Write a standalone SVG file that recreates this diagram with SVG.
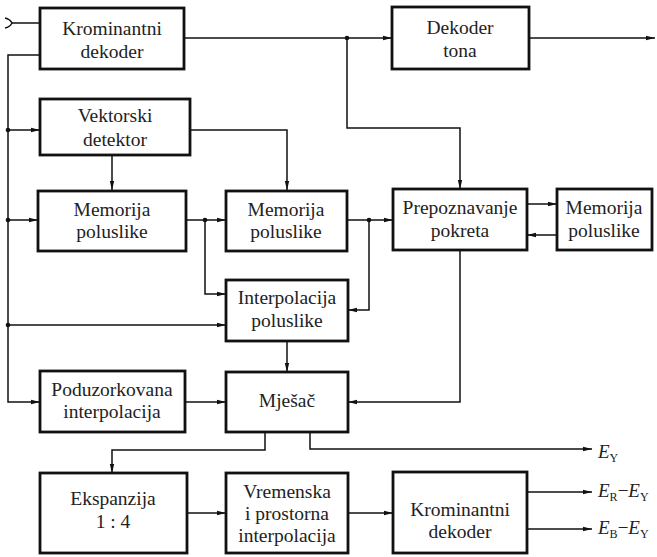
<svg xmlns="http://www.w3.org/2000/svg" width="657" height="557" viewBox="0 0 657 557">
<style>
.box{fill:#fff;stroke:#111;stroke-width:2.8}
.t{font-family:"Liberation Serif","Times New Roman",serif;font-size:19.5px;fill:#222;text-anchor:middle}
.c{fill:none;stroke:#111;stroke-width:1.5}
.a{marker-end:url(#ah)}
.lbl{font-family:"Liberation Serif","Times New Roman",serif;font-size:19px;fill:#222}
.sub{font-size:12px;font-style:normal}
</style>
<defs>
<marker id="ah" markerUnits="userSpaceOnUse" markerWidth="9" markerHeight="6" refX="9" refY="3" orient="auto">
<path d="M0,0.8 L9,3 L0,5.2 z" fill="#111"/>
</marker>
</defs>
<rect width="657" height="557" fill="#fff"/>
<g id="connectors">
<path class="c" d="M5,18 Q10,19 12,23 Q10,27 5,28"/>
<path class="c" d="M12,23 H40"/>
<path class="c a" d="M40,55 H8 V402 H40"/>
<path class="c a" d="M8,130 H40"/>
<path class="c a" d="M8,220 H38"/>
<path class="c a" d="M8,325 H226"/>
<path class="c a" d="M184,38 H392"/>
<path class="c a" d="M347,38 V128 H460 V189"/>
<path class="c a" d="M529,38 H655"/>
<path class="c a" d="M112,155 V190"/>
<path class="c a" d="M190,130 H287 V190"/>
<path class="c a" d="M186,220 H226"/>
<path class="c a" d="M205,220 V294 H226"/>
<path class="c a" d="M347,220 H393"/>
<path class="c a" d="M369,220 V310 H348"/>
<path class="c a" d="M527,204 H557"/>
<path class="c a" d="M557,235 H527"/>
<path class="c a" d="M460,250 V402 H348"/>
<path class="c a" d="M287,341 V372"/>
<path class="c a" d="M185,402 H226"/>
<path class="c a" d="M265,432 V450 H112 V473"/>
<path class="c a" d="M310,432 V449 H592"/>
<path class="c a" d="M187,513 H226"/>
<path class="c a" d="M348,513 H393"/>
<path class="c a" d="M527,492 H592"/>
<path class="c a" d="M527,529 H592"/>
<g fill="#111">
<circle cx="8" cy="130" r="2.3"/>
<circle cx="8" cy="220" r="2.3"/>
<circle cx="8" cy="325" r="2.3"/>
<circle cx="347" cy="38" r="2.3"/>
<circle cx="205" cy="220" r="2.3"/>
<circle cx="369" cy="220" r="2.3"/>
</g>
</g>
<g id="krominantni1"><rect class="box" x="40" y="8" width="144" height="61"/><text class="t" x="112" y="35">Krominantni</text><text class="t" x="112" y="58">dekoder</text></g>
<g id="dekoder-tona"><rect class="box" x="392" y="7" width="137" height="62"/><text class="t" x="460" y="34">Dekoder</text><text class="t" x="460" y="57">tona</text></g>
<g id="vektorski"><rect class="box" x="40" y="99" width="150" height="56"/><text class="t" x="115" y="122">Vektorski</text><text class="t" x="115" y="146">detektor</text></g>
<g id="memorija1"><rect class="box" x="38" y="191" width="148" height="60"/><text class="t" x="112" y="216">Memorija</text><text class="t" x="112" y="238">poluslike</text></g>
<g id="memorija2"><rect class="box" x="226" y="191" width="121" height="60"/><text class="t" x="286" y="216">Memorija</text><text class="t" x="286" y="238">poluslike</text></g>
<g id="prepoznavanje"><rect class="box" x="393" y="189" width="134" height="61"/><text class="t" x="460" y="214">Prepoznavanje</text><text class="t" x="460" y="237">pokreta</text></g>
<g id="memorija3"><rect class="box" x="557" y="189" width="95" height="61"/><text class="t" x="604" y="214">Memorija</text><text class="t" x="604" y="237">poluslike</text></g>
<g id="interpolacija"><rect class="box" x="226" y="280" width="122" height="61"/><text class="t" x="287" y="304">Interpolacija</text><text class="t" x="287" y="327">poluslike</text></g>
<g id="poduzorkovana"><rect class="box" x="40" y="371" width="145" height="61"/><text class="t" x="112" y="396">Poduzorkovana</text><text class="t" x="112" y="418">interpolacija</text></g>
<g id="mjesac"><rect class="box" x="226" y="372" width="122" height="60"/><text class="t" x="287" y="407">Mješač</text></g>
<g id="ekspanzija"><rect class="box" x="40" y="473" width="147" height="80"/><text class="t" x="113" y="505">Ekspanzija</text><text class="t" x="113" y="528">1 : 4</text></g>
<g id="vremenska"><rect class="box" x="226" y="473" width="122" height="80"/><text class="t" x="287" y="498">Vremenska</text><text class="t" x="287" y="520">i prostorna</text><text class="t" x="287" y="542">interpolacija</text></g>
<g id="krominantni2"><rect class="box" x="393" y="472" width="134" height="81"/><text class="t" x="460" y="516">Krominantni</text><text class="t" x="460" y="538">dekoder</text></g>
<g id="labels">
<text class="lbl" x="598" y="458"><tspan font-style="italic">E</tspan><tspan class="sub" dy="4">Y</tspan></text>
<text class="lbl" x="598" y="497"><tspan font-style="italic">E</tspan><tspan class="sub" dy="4">R</tspan><tspan dy="-4">−</tspan><tspan font-style="italic">E</tspan><tspan class="sub" dy="4">Y</tspan></text>
<text class="lbl" x="598" y="534"><tspan font-style="italic">E</tspan><tspan class="sub" dy="4">B</tspan><tspan dy="-4">−</tspan><tspan font-style="italic">E</tspan><tspan class="sub" dy="4">Y</tspan></text>
</g>
</svg>
